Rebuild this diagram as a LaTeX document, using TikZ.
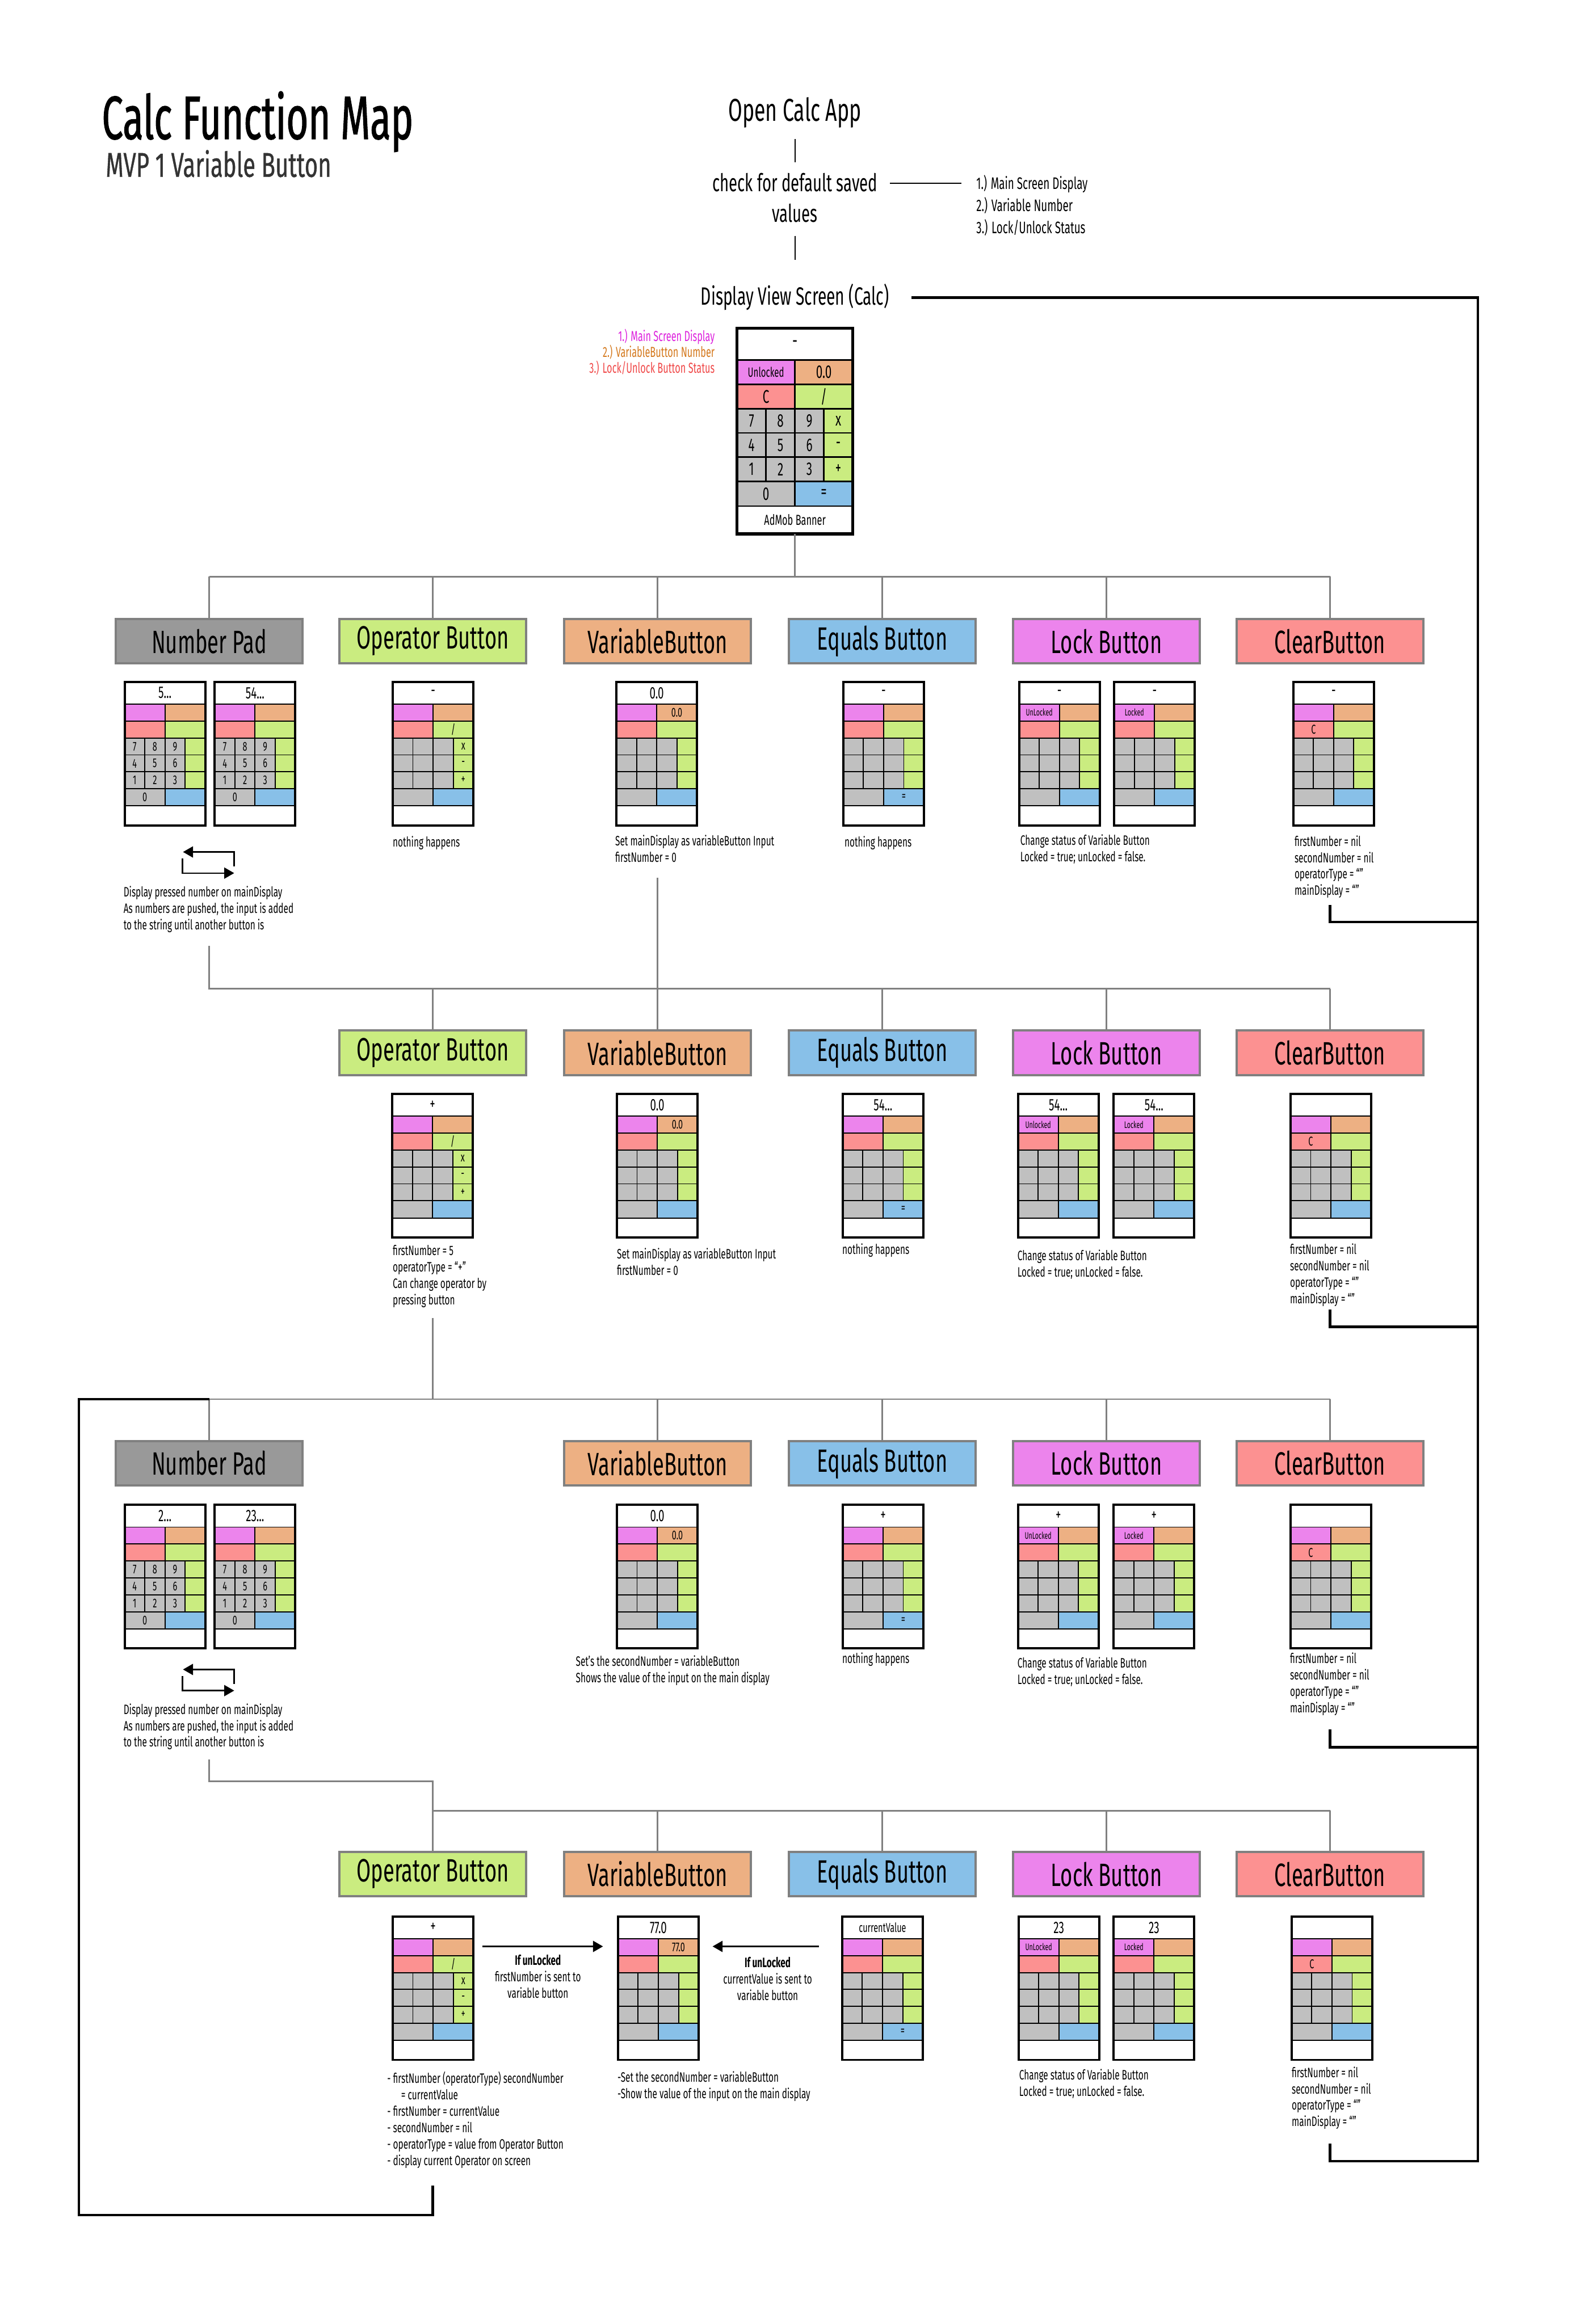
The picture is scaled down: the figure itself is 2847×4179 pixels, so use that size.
\documentclass[tikz,border=0pt]{standalone}
\usepackage{fontspec}
\setmainfont{Fira Sans}[FakeStretch=0.64]
\newfontfamily\titlefont{Fira Sans}[FakeStretch=0.62,FakeBold=1]
\newfontfamily\subfont{Fira Sans}[FakeStretch=0.66,FakeBold=0.6]
\usetikzlibrary{arrows.meta}
\definecolor{cpink}{HTML}{EC84EC}
\definecolor{corange}{HTML}{EDB083}
\definecolor{cred}{HTML}{FC9191}
\definecolor{cgreen}{HTML}{CAEC80}
\definecolor{cgray}{HTML}{C0C0C0}
\definecolor{cblue}{HTML}{88C0E8}
\definecolor{hgray}{HTML}{999999}
\definecolor{bgray}{HTML}{808080}
\definecolor{lmag}{HTML}{DD22DD}
\definecolor{lorange}{HTML}{D4781C}
\definecolor{lred}{HTML}{F04848}
\definecolor{subgray}{HTML}{333333}
\newcommand\fsz[1]{\fontsize{#1}{#1}\selectfont}
\newcommand\fst{\fontsize{24.5}{29.5}\selectfont}
\newif\ifcnums \newif\ifcmain
\pgfkeys{/calc/.is family,
 /calc/disp/.store in=\cDisp, /calc/lock/.store in=\cLock, /calc/var/.store in=\cVar,
 /calc/clr/.store in=\cClr, /calc/div/.store in=\cDiv, /calc/mul/.store in=\cMul,
 /calc/sub/.store in=\cSub, /calc/add/.store in=\cAdd, /calc/eq/.store in=\cEq,
 /calc/ad/.store in=\cAd, /calc/nums/.code={\cnumstrue}, /calc/main/.code={\cmaintrue}}
\newcommand\drawcalc[4]{%
 \def\cDisp{}\def\cLock{}\def\cVar{}\def\cClr{}\def\cDiv{}\def\cMul{}\def\cSub{}\def\cAdd{}\def\cEq{}\def\cAd{}%
 \cnumsfalse\cmainfalse
 \pgfkeys{/calc,#4}%
 \ifcmain
  \def\cW{208}\def\cH{370}\def\fD{36}\def\fL{24}\def\fK{33}\def\fA{26}\def\lwO{5.5}\def\lwI{2.5}%
 \else
  \def\cW{145}\def\cH{258}\def\fD{30}\def\fL{17}\def\fK{23}\def\fA{18}\def\lwO{4}\def\lwI{2}%
 \fi
 \node[inner sep=0pt, outer sep=0pt, minimum width=\cW pt, minimum height=\cH pt, anchor=north west] (#1) at (#2,#3) {};
 \begin{scope}[shift={(#1.north west)}, x=\cW pt, y=-\cH pt, line width=\lwI pt]
  \filldraw[fill=white] (0,0) rectangle (1,.155);
  \filldraw[fill=cpink] (0,.155) rectangle (.5,.273);
  \filldraw[fill=corange] (.5,.155) rectangle (1,.273);
  \filldraw[fill=cred] (0,.273) rectangle (.5,.392);
  \filldraw[fill=cgreen] (.5,.273) rectangle (1,.392);
  \foreach \c in {0,1,2} \foreach \r in {0,1,2}
   \filldraw[fill=cgray] (\c*.25,.392+\r*.1175) rectangle ++(.25,.1175);
  \foreach \r in {0,1,2}
   \filldraw[fill=cgreen] (.75,.392+\r*.1175) rectangle ++(.25,.1175);
  \filldraw[fill=cgray] (0,.745) rectangle (.5,.865);
  \filldraw[fill=cblue] (.5,.745) rectangle (1,.865);
  \filldraw[fill=white] (0,.865) rectangle (1,1);
  \node[font=\fsz{\fD}] (#1-d) at (.5,.0775) {\cDisp};
  \node[font=\fsz{\fL}] (#1-l) at (.25,.214) {\cLock};
  \node[font=\fsz{\fK}] (#1-v) at (.75,.214) {\cVar};
  \node[font=\fsz{\fK}] (#1-c) at (.25,.3325) {\cClr};
  \node[font=\fsz{\fK}] (#1-q) at (.75,.3325) {\cDiv};
  \node[font=\fsz{\fK}] (#1-m) at (.875,.451) {\cMul};
  \node[font=\fsz{\fK}] (#1-s) at (.875,.5685) {\cSub};
  \node[font=\fsz{\fK}] (#1-a) at (.875,.686) {\cAdd};
  \node[font=\fsz{\fK}] (#1-e) at (.75,.805) {\cEq};
  \node[font=\fsz{\fA}] (#1-b) at (.5,.9325) {\cAd};
  \ifcnums
   \foreach \t [count=\i from 0] in {7,8,9,4,5,6,1,2,3}{%
    \pgfmathsetmacro\cx{.125+.25*mod(\i,3)}%
    \pgfmathsetmacro\cy{.451+.1175*floor(\i/3)}%
    \node[font=\fsz{\fK}] (#1-k\t) at (\cx,\cy) {\t};}
   \node[font=\fsz{\fK}] (#1-k0) at (.25,.805) {0};
  \fi
 \end{scope}
 \draw[line width=\lwO pt] (#1.north west) rectangle (#1.south east);
}
\begin{document}
\begin{tikzpicture}[x=1pt,y=-1pt,
 hdr/.style={draw=bgray, line width=4pt, minimum width=336pt, minimum height=80pt, inner sep=0pt, font=\fsz{58}},
 conn/.style={draw=bgray, line width=2.5pt},
 vline/.style={draw=black, line width=2pt},
 loopline/.style={draw=black, line width=4.5pt},
 txt/.style={align=left, inner sep=0pt, anchor=north west, font=\fst},
 arr/.style={draw=black, line width=2.5pt, -{Triangle[length=18pt,width=20pt]}}]
\useasboundingbox (0,0) rectangle (2847,4179);
\fill[white] (0,0) rectangle (2847,4179);

% ---------- title ----------
\node[anchor=base west, inner sep=0pt, font=\titlefont\fsz{110}] (title) at (183,250) {Calc Function Map};
\node[anchor=base west, inner sep=0pt, font=\subfont\fsz{62}, text=subgray] (subtitle) at (190,318) {MVP 1 Variable Button};

% ---------- top flow ----------
\node[anchor=base, inner sep=0pt, font=\fsz{57}] (open) at (1429,218) {Open Calc App};
\node[anchor=north, inner sep=0pt, align=center, font=\fontsize{44}{55}\selectfont] (check) at (1429,311) {check for default saved\\values};
\node[anchor=north west, inner sep=0pt, align=left, font=\fontsize{30}{39.5}\selectfont] (defs) at (1755,315) {1.) Main Screen Display\\2.) Variable Number\\3.) Lock/Unlock Status};
\node[anchor=base, inner sep=0pt, font=\fsz{45}] (dvs) at (1429,548) {Display View Screen (Calc)};
\coordinate (yline) at (0,330);
\draw[vline, shorten <=20pt, shorten >=19pt] (open.south) -- (check.north);
\draw[vline, shorten <=24pt, shorten >=43pt] (check.south) -- (dvs.north);
\draw[vline, shorten <=22pt, shorten >=27pt] (check.east |- yline) -- (defs.west |- yline);

% ---------- main calculator ----------
\node[anchor=north east, inner sep=0pt, align=right, font=\fontsize{26}{29}\selectfont] (legend) at (1285,591)
 {{\color{lmag}1.) Main Screen Display}\\{\color{lorange}2.) VariableButton Number}\\{\color{lred}3.) Lock/Unlock Button Status}};
\drawcalc{main}{1325}{590}{main, disp={-}, lock={Unlocked}, var={0.0}, clr={C}, div={/}, mul={x}, sub={-}, add={+}, eq={=}, nums, ad={AdMob Banner}}

% ---------- headers ----------
\foreach \r/\y in {1/1153,2/1893,3/2631,4/3370}{
 \ifnum\r=2\else\ifnum\r=4\else \node[hdr, fill=hgray] (h\r np) at (376,\y) {Number Pad};\fi\fi
 \ifnum\r=3\else \node[hdr, fill=cgreen] (h\r op) at (778,\y) {Operator Button};\fi
 \node[hdr, fill=corange] (h\r vb) at (1182,\y) {VariableButton};
 \node[hdr, fill=cblue] (h\r eq) at (1586,\y) {Equals Button};
 \node[hdr, fill=cpink] (h\r lk) at (1989,\y) {Lock Button};
 \node[hdr, fill=cred] (h\r cl) at (2391,\y) {ClearButton};
}

% ---------- row 1 ----------
\drawcalc{c1np1}{224}{1226}{disp={5...}, nums}
\drawcalc{c1np2}{386}{1226}{disp={54...}, nums}
\drawcalc{c1op}{706}{1226}{disp={-}, div={/}, mul={x}, sub={-}, add={+}}
\drawcalc{c1vb}{1108}{1226}{disp={0.0}, var={0.0}}
\drawcalc{c1eq}{1516}{1226}{disp={-}, eq={=}}
\drawcalc{c1lk1}{1832}{1226}{disp={-}, lock={UnLocked}}
\drawcalc{c1lk2}{2003}{1226}{disp={-}, lock={Locked}}
\drawcalc{c1cl}{2325}{1226}{disp={-}, clr={C}}
\node[txt] (np1t) at (222,1593) {Display pressed number on mainDisplay\\As numbers are pushed, the input is added\\to the string until another button is};
\node[txt] (op1t) at (706,1503) {nothing happens};
\node[txt] (vb1t) at (1106,1501) {Set mainDisplay as variableButton Input\\firstNumber = 0};
\node[txt] (eq1t) at (1518,1503) {nothing happens};
\node[txt] (lk1t) at (1834,1500) {Change status of Variable Button\\Locked = true; unLocked = false.};
\node[txt] (cl1t) at (2327,1502) {firstNumber = nil\\secondNumber = nil\\operatorType = “”\\mainDisplay = “”};
\coordinate (np1a) at (421,1558); \coordinate (np1b) at (329,1532);
\coordinate (np1c) at (328,1544); \coordinate (np1d) at (421,1570);
\draw[arr] (np1a) |- (np1b);
\draw[arr] (np1c) |- (np1d);

% ---------- row 2 ----------
\drawcalc{c2op}{705}{1967}{disp={+}, div={/}, mul={x}, sub={-}, add={+}}
\drawcalc{c2vb}{1109}{1967}{disp={0.0}, var={0.0}}
\drawcalc{c2eq}{1515}{1967}{disp={54...}, eq={=}}
\drawcalc{c2lk1}{1830}{1967}{disp={54...}, lock={Unlocked}}
\drawcalc{c2lk2}{2002}{1967}{disp={54...}, lock={Locked}}
\drawcalc{c2cl}{2320}{1967}{clr={C}}
\node[txt] (op2t) at (706,2239) {firstNumber = 5\\operatorType = “+”\\Can change operator by\\pressing button};
\node[txt] (vb2t) at (1109,2244) {Set mainDisplay as variableButton Input\\firstNumber = 0};
\node[txt] (eq2t) at (1514,2236) {nothing happens};
\node[txt] (lk2t) at (1829,2247) {Change status of Variable Button\\Locked = true; unLocked = false.};
\node[txt] (cl2t) at (2319,2236) {firstNumber = nil\\secondNumber = nil\\operatorType = “”\\mainDisplay = “”};

% ---------- row 3 ----------
\drawcalc{c3np1}{224}{2706}{disp={2...}, nums}
\drawcalc{c3np2}{386}{2706}{disp={23...}, nums}
\drawcalc{c3vb}{1109}{2706}{disp={0.0}, var={0.0}}
\drawcalc{c3eq}{1515}{2706}{disp={+}, eq={=}}
\drawcalc{c3lk1}{1830}{2706}{disp={+}, lock={UnLocked}}
\drawcalc{c3lk2}{2002}{2706}{disp={+}, lock={Locked}}
\drawcalc{c3cl}{2320}{2706}{clr={C}}
\node[txt] (np3t) at (222,3063) {Display pressed number on mainDisplay\\As numbers are pushed, the input is added\\to the string until another button is};
\node[txt] (vb3t) at (1035,2977) {Set’s the secondNumber = variableButton\\Shows the value of the input on the main display};
\node[txt] (eq3t) at (1514,2972) {nothing happens};
\node[txt] (lk3t) at (1829,2980) {Change status of Variable Button\\Locked = true; unLocked = false.};
\node[txt] (cl3t) at (2319,2972) {firstNumber = nil\\secondNumber = nil\\operatorType = “”\\mainDisplay = “”};
\coordinate (np3a) at (421,3028); \coordinate (np3b) at (329,3002);
\coordinate (np3c) at (328,3014); \coordinate (np3d) at (421,3040);
\draw[arr] (np3a) |- (np3b);
\draw[arr] (np3c) |- (np3d);

% ---------- row 4 ----------
\drawcalc{c4op}{706}{3446}{disp={+}, div={/}, mul={x}, sub={-}, add={+}}
\drawcalc{c4vb}{1111}{3446}{disp={77.0}, var={77.0}}
\drawcalc{c4eq}{1514}{3446}{disp={\fsz{23}currentValue}, eq={=}}
\drawcalc{c4lk1}{1831}{3446}{disp={23}, lock={UnLocked}}
\drawcalc{c4lk2}{2002}{3446}{disp={23}, lock={Locked}}
\drawcalc{c4cl}{2322}{3446}{clr={C}}
\node[txt] (op4t) at (696,3725) {- firstNumber (operatorType) secondNumber\\\hspace*{25pt}= currentValue\\- firstNumber = currentValue\\- secondNumber = nil\\- operatorType = value from Operator Button\\- display current Operator on screen};
\node[txt] (vb4t) at (1110,3725) {-Set the secondNumber = variableButton\\-Show the value of the input on the main display};
\node[txt] (lk4t) at (1832,3720) {Change status of Variable Button\\Locked = true; unLocked = false.};
\node[txt] (cl4t) at (2322,3716) {firstNumber = nil\\secondNumber = nil\\operatorType = “”\\mainDisplay = “”};
\node[txt, anchor=north, align=center] (al1) at (967,3515) {\textbf{If unLocked}\\firstNumber is sent to\\variable button};
\node[txt, anchor=north, align=center] (al2) at (1380,3519) {\textbf{If unLocked}\\currentValue is sent to\\variable button};
\coordinate (ay) at (0,3500);
\draw[arr, shorten <=16pt, shorten >=27pt] (c4op.east |- ay) -- (c4vb.west |- ay);
\draw[arr, shorten <=42pt, shorten >=25pt] (c4eq.west |- ay) -- (c4vb.east |- ay);

% ---------- tree connectors ----------
\coordinate (bus0) at (0,1037);
\draw[conn] (main.south) -- (main.south |- bus0);
\draw[conn] (h1np.north |- bus0) -- (h1cl.north |- bus0);
\foreach \n in {np,op,vb,eq,lk,cl} \draw[conn] (h1\n.north) -- (h1\n.north |- bus0);

\coordinate (bus1) at (0,1778);
\coordinate (np1o) at (376,1701);
\coordinate (vb1o) at (1182,1578);
\draw[conn] (np1o) -- (np1o |- bus1) -- (h2cl.north |- bus1);
\draw[conn] (vb1o) -- (vb1o |- bus1);
\foreach \n in {op,vb,eq,lk,cl} \draw[conn] (h2\n.north) -- (h2\n.north |- bus1);

\coordinate (bus2) at (0,2516);
\coordinate (op2o) at (778,2370);
\draw[conn] (op2o) -- (op2o |- bus2);
\draw[conn] (h3np.north |- bus2) -- (h3cl.north |- bus2);
\foreach \n in {np,vb,eq,lk,cl} \draw[conn] (h3\n.north) -- (h3\n.north |- bus2);

\coordinate (bus3) at (0,3203);
\coordinate (bus4) at (0,3256);
\coordinate (np3o) at (376,3164);
\draw[conn] (np3o) |- (h4op.north |- bus3) -- (h4op.north);
\draw[conn] (h4op.north |- bus4) -- (h4cl.north |- bus4);
\foreach \n in {vb,eq,lk,cl} \draw[conn] (h4\n.north) -- (h4\n.north |- bus4);

% ---------- loops ----------
\coordinate (lft) at (142,0);
\coordinate (bbot) at (0,3983);
\coordinate (op4b) at (778,3930);
\draw[loopline, line join=miter] (h3np.north |- bus2) -- (lft |- bus2) -- (lft |- bbot) -- (op4b |- bbot) -- (op4b);

\coordinate (rtop) at (2657,535);
\coordinate (rbot) at (2657,3886);
\draw[loopline, line join=miter] ([xshift=40pt]dvs.east |- rtop) -- (rtop) -- (rbot) -- (h4cl.center |- rbot) -- (h4cl.center |- 0,3855);
\foreach \a/\b in {1627/1658, 2355/2386, 3110/3142}
 \draw[loopline] (h1cl.center |- 0,\a) |- (rtop |- 0,\b);
\end{tikzpicture}
\end{document}
